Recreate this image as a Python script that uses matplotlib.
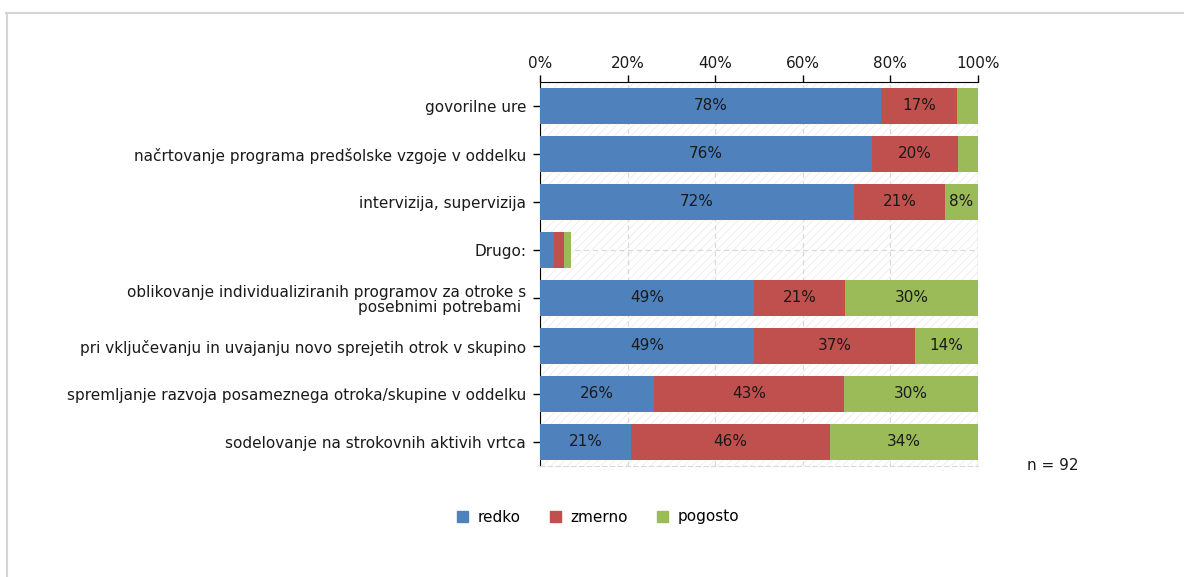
import matplotlib.pyplot as plt
from matplotlib.patches import Rectangle
from matplotlib.lines import Line2D
import numpy as np

categories = [
    "govorilne ure",
    "načrtovanje programa predšolske vzgoje v oddelku",
    "intervizija, supervizija",
    "Drugo:",
    "oblikovanje individualiziranih programov za otroke s\nposebnimi potrebami ",
    "pri vključevanju in uvajanju novo sprejetih otrok v skupino",
    "spremljanje razvoja posameznega otroka/skupine v oddelku",
    "sodelovanje na strokovnih aktivih vrtca",
]
redko = [77.9, 75.8, 71.7, 3.3, 48.9, 48.9, 26.1, 20.7]
zmerno = [17.4, 19.6, 20.7, 2.2, 20.8, 36.8, 43.4, 45.6]
pogosto = [4.7, 4.6, 7.6, 1.6, 30.3, 14.3, 30.5, 33.7]
series_names = ["redko", "zmerno", "pogosto"]
colors = ["#4F81BD", "#C0504D", "#9BBB59"]
xticks = [0, 20, 40, 60, 80, 100]
n_label = "n = 92"


def main():
    plt.rcParams["font.family"] = "DejaVu Sans"
    plt.rcParams["hatch.linewidth"] = 0.6
    fs = 11
    fig = plt.figure(figsize=(11.84, 5.77), dpi=100)
    ax = fig.add_axes([540 / 1184, 1 - 466 / 577, 438 / 1184, 384 / 577])

    # light hatched background
    ax.add_patch(Rectangle((0, 0), 1, 1, transform=ax.transAxes, fill=False,
                           hatch="////", edgecolor="#ececec", lw=0, zorder=0))

    y = np.arange(len(categories))
    left = np.zeros(len(categories))
    for vals, name, col in zip([redko, zmerno, pogosto], series_names, colors):
        vals = np.array(vals, dtype=float)
        ax.barh(y, vals, left=left, height=0.77, color=col, label=name, zorder=3)
        for yi, (l, v) in enumerate(zip(left, vals)):
            if v >= 7.5:
                ax.text(l + v / 2, yi, f"{round(v):.0f}%", ha="center", va="center",
                        fontsize=fs, color="#1a1a1a", zorder=4)
        left += vals

    ax.set_xlim(0, 100)
    ax.set_ylim(len(categories) - 0.5, -0.5)
    ax.set_yticks(y)
    ax.set_yticklabels(categories, fontsize=fs, color="#1a1a1a", multialignment="right",
                       linespacing=1.05)
    ax.set_xticks(xticks)
    ax.set_xticklabels([f"{t}%" for t in xticks], fontsize=fs, color="#1a1a1a")
    ax.xaxis.tick_top()
    ax.tick_params(axis="x", direction="out", length=5, width=1, color="black", pad=3)
    ax.tick_params(axis="y", direction="out", length=5, width=1, color="black", pad=5)

    ax.grid(axis="x", color="#d9d9d9", linestyle=(0, (4, 3)), lw=0.9, zorder=1)
    ax.grid(axis="y", color="#d9d9d9", linestyle=(0, (4, 3)), lw=0.9, zorder=1)
    ax.set_axisbelow(True)

    ax.spines["right"].set_visible(False)
    ax.spines["bottom"].set_color("#d9d9d9")
    ax.spines["bottom"].set_linestyle((0, (4, 3)))
    ax.spines["left"].set_color("black")
    ax.spines["top"].set_color("black")
    ax.axvline(100, color="#d0d0d0", lw=1, zorder=1)

    handles = [Rectangle((0, 0), 1, 1, color=c) for c in colors]
    fig.legend(handles, series_names, loc="center", bbox_to_anchor=(598 / 1184, 1 - 517 / 577),
               ncol=3, frameon=False, fontsize=fs, handlelength=0.75, handleheight=0.75,
               handletextpad=0.6, columnspacing=1.9)

    fig.text(1053 / 1184, 1 - 466 / 577, n_label, ha="center", va="center",
             fontsize=fs, color="#1a1a1a")

    # outer frame (top and left edges visible)
    fig.add_artist(Line2D([6 / 1184, 1], [1 - 12.5 / 577] * 2, color="#d4d4d4", lw=1.5,
                          transform=fig.transFigure))
    fig.add_artist(Line2D([6.5 / 1184] * 2, [0, 1 - 12.5 / 577], color="#d4d4d4", lw=1.5,
                          transform=fig.transFigure))

    fig.savefig("out.png", dpi=100)


if __name__ == "__main__":
    main()
